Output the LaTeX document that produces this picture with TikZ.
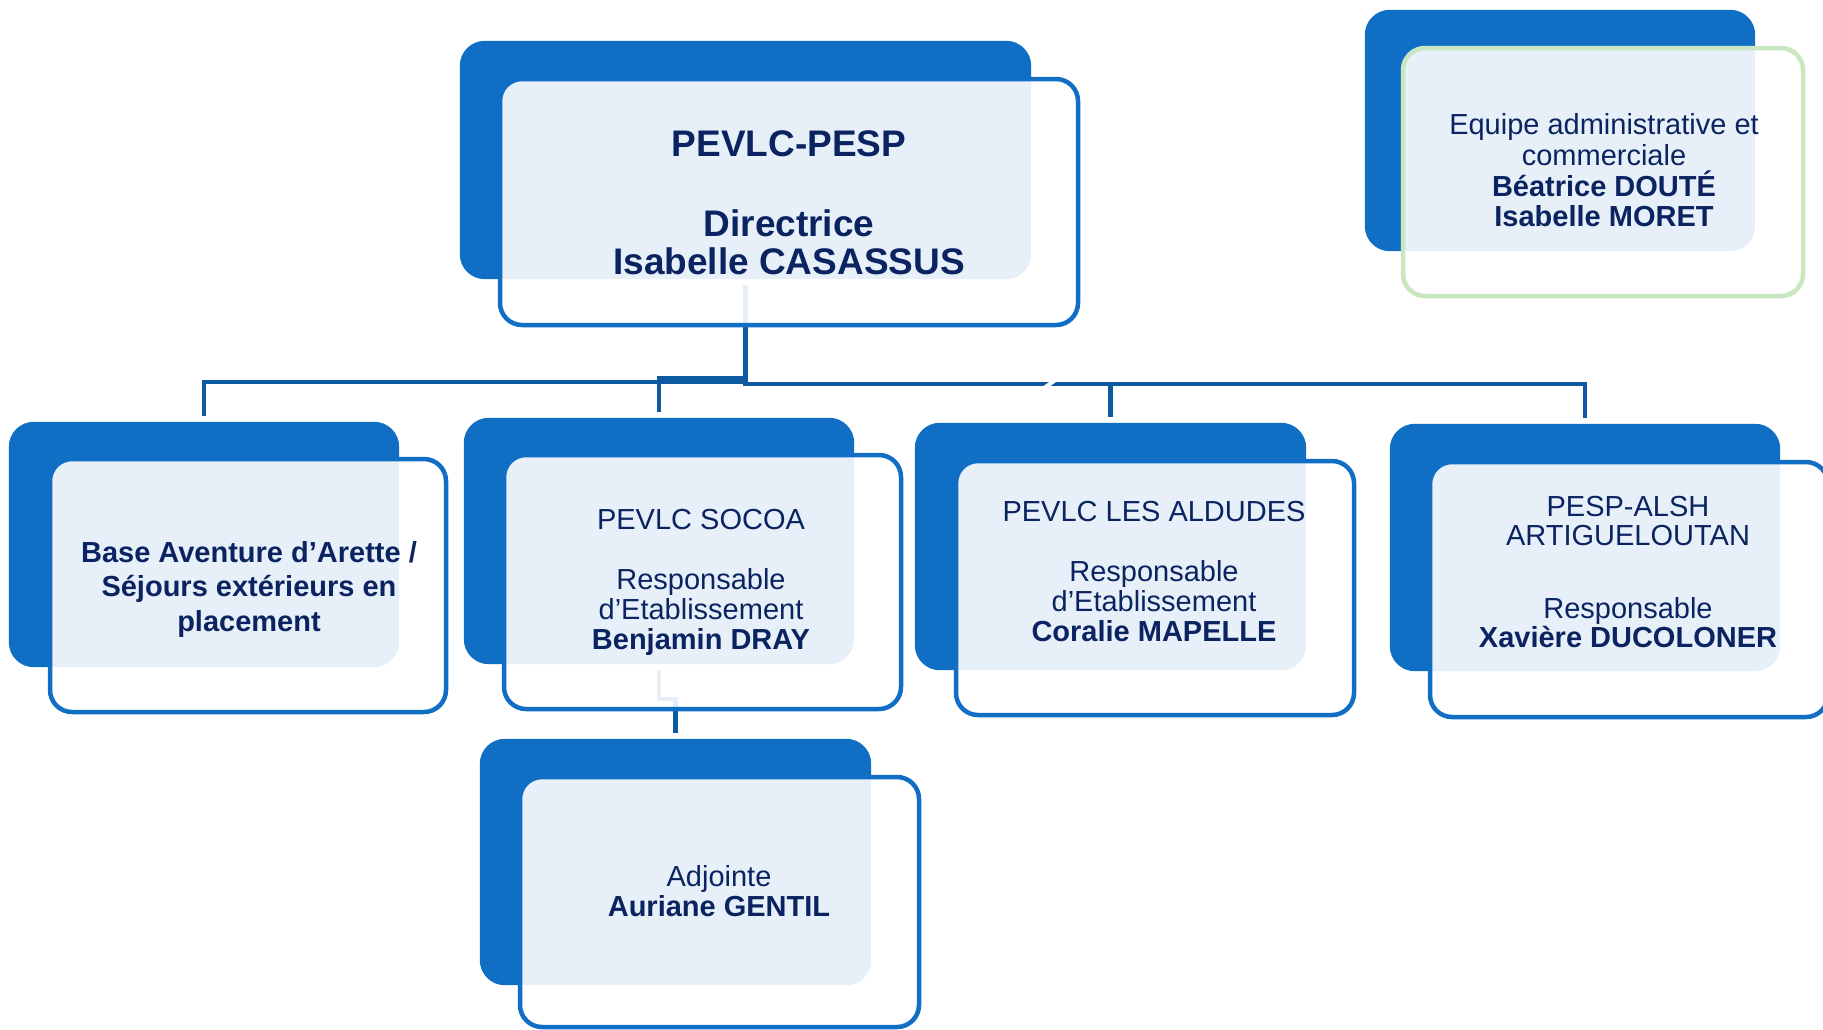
\documentclass[tikz,border=0pt]{standalone}
\usepackage{fontspec}
\setmainfont{Liberation Sans}
\usetikzlibrary{calc}
\definecolor{boxblue}{HTML}{106FC4}
\definecolor{connblue}{HTML}{0E5AA0}
\definecolor{navy}{HTML}{0B2461}
\definecolor{lightgreen}{HTML}{C8E6C0}
\tikzset{
  backbox/.style={rectangle, rounded corners=25pt, fill=boxblue, draw=none, inner sep=0pt},
  frontbox/.style={rectangle, rounded corners=22pt, fill=white, fill opacity=0.9, draw=boxblue, draw opacity=1, line width=4.5pt, inner sep=0pt},
  greenbox/.style={frontbox, draw=lightgreen},
  boxtext/.style={text=navy, align=center, inner sep=0pt},
  conn/.style={draw=connblue, line width=4.5pt, line join=miter},
}
\begin{document}
\begin{tikzpicture}[x=1pt, y=-1pt]
\useasboundingbox (0,0) rectangle (1823,1029);
\fill[white] (0,0) rectangle (1823,1029);
\clip (0,0) rectangle (1823,1029);

\coordinate (busA) at (0,382);
\coordinate (busB) at (0,378);
\coordinate (busC) at (0,384);
\coordinate (busD) at (0,699);
\coordinate (w1) at (1000,420);
\coordinate (w2) at (1362,158);

\path
  node[backbox, fill=none, minimum width=571pt, minimum height=238pt] (tb)  at (745.5,160) {}
  node[backbox, fill=none, minimum width=390pt, minimum height=241pt] (ab)  at (1560,130.5) {}
  node[backbox, fill=none, minimum width=390pt, minimum height=245pt] (c1b) at (204,544.5) {}
  node[backbox, fill=none, minimum width=390pt, minimum height=246pt] (c2b) at (659,541) {}
  node[backbox, fill=none, minimum width=391pt, minimum height=247pt] (c3b) at (1110.5,546.5) {}
  node[backbox, fill=none, minimum width=390pt, minimum height=247pt] (c4b) at (1585,547.5) {}
  node[backbox, fill=none, minimum width=391pt, minimum height=246pt] (adb) at (675.5,862) {};

% connectors
\draw[conn] ([yshift=-6pt]tb.south) -- (tb.south |- busA) -| ([yshift=6pt]c1b.north);
\draw[conn] ([yshift=-6pt]tb.south) -- (tb.south |- busB) -| ([yshift=6pt]c2b.north);
\draw[conn] ([yshift=-6pt]tb.south) -- (tb.south |- busC) -| ([yshift=6pt]c3b.north);
\draw[conn] ([yshift=-6pt]tb.south) -- (tb.south |- busC) -| ([yshift=6pt]c4b.north);
\draw[conn] ([yshift=-6pt]c2b.south) -- (c2b.south |- busD) -| ([yshift=6pt]adb.north);
\draw[white, line width=4pt] (w1) -- (w2);

% back boxes
\foreach \n in {tb,ab,c1b,c2b,c3b,c4b,adb}{
  \fill[boxblue, rounded corners=25pt] (\n.south west) rectangle (\n.north east);
}

% front boxes
\node[frontbox, minimum width=578pt, minimum height=246pt] (tf)  at (789,202) {};
\node[greenbox, minimum width=400pt, minimum height=248pt] (af)  at (1603,172) {};
\node[frontbox, minimum width=396pt, minimum height=253pt] (c1f) at (248,585.5) {};
\node[frontbox, minimum width=397pt, minimum height=254pt] (c2f) at (702.5,582) {};
\node[frontbox, minimum width=398pt, minimum height=254pt] (c3f) at (1155,588) {};
\node[frontbox, minimum width=398pt, minimum height=255pt] (c4f) at (1629,589.5) {};
\node[frontbox, minimum width=399pt, minimum height=250pt] (adf) at (719.5,902) {};

% texts
\node[boxtext, font=\fontsize{37}{38}\selectfont\bfseries] (tt) at (789,202.7)
  {PEVLC-PESP\\[42pt]Directrice\\Isabelle CASASSUS};
\node[boxtext, font=\fontsize{29}{30.7}\selectfont] (at) at (1604,170.5)
  {Equipe administrative et\\commerciale\\\textbf{Béatrice DOUTÉ}\\\textbf{Isabelle MORET}};
\node[boxtext, font=\fontsize{29}{34.5}\selectfont\bfseries] (c1t) at (249,589)
  {Base Aventure d’Arette /\\Séjours extérieurs en\\placement};
\node[boxtext, font=\fontsize{29}{30}\selectfont] (c2t) at (701,582.6)
  {PEVLC SOCOA\\[30pt]Responsable\\d’Etablissement\\\textbf{Benjamin DRAY}};
\node[boxtext, font=\fontsize{29}{30}\selectfont] (c3t) at (1154,572)
  {PEVLC LES ALDUDES\\[30pt]Responsable\\d’Etablissement\\\textbf{Coralie MAPELLE}};
\node[boxtext, font=\fontsize{29}{29.5}\selectfont] (c4t) at (1628,572)
  {PESP-ALSH\\ARTIGUELOUTAN\\[43pt]Responsable\\\textbf{Xavière DUCOLONER}};
\node[boxtext, font=\fontsize{29}{30}\selectfont] (adt) at (719,891.5)
  {Adjointe\\\textbf{Auriane GENTIL}};
\end{tikzpicture}
\end{document}
